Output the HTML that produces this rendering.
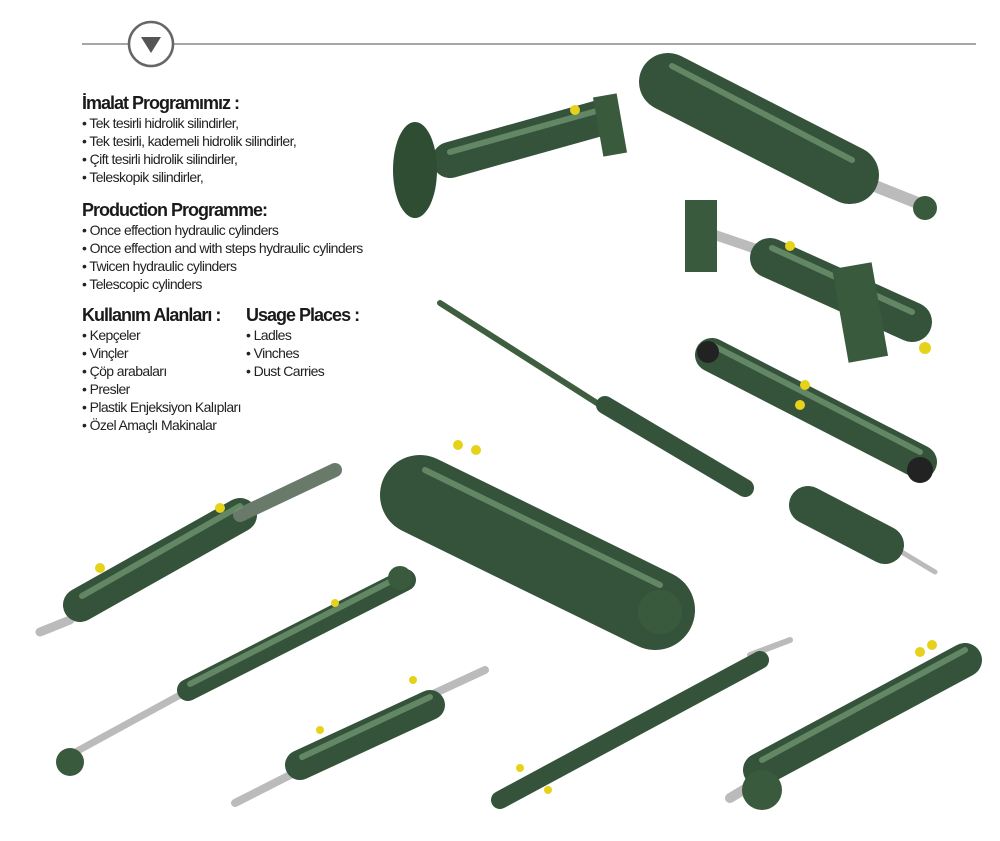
<!DOCTYPE html>
<html><head><meta charset="utf-8"><style>
body{margin:0;width:1000px;height:841px;background:#fff;position:relative;overflow:hidden;font-family:"Liberation Sans Narrow","Liberation Sans",sans-serif;color:#222}
.t{position:absolute;left:82px;line-height:18px;font-size:14px;letter-spacing:-0.6px}
.h{font-weight:bold;font-size:18px;letter-spacing:-1px;line-height:22px;color:#1a1a1a}
svg{position:absolute;left:0;top:0}
</style></head><body>
<svg width="1000" height="841">
<line x1="82" y1="44" x2="128" y2="44" stroke="#888" stroke-width="1.5"/>
<line x1="174" y1="44" x2="976" y2="44" stroke="#888" stroke-width="1.5"/>
<circle cx="151" cy="44" r="22" fill="#fff" stroke="#666" stroke-width="2.5"/>
<polygon points="141,37 161,37 151,53" fill="#555"/>
<g stroke-linecap="round" fill="none">
<g stroke="#bbb">
<line x1="860" y1="180" x2="930" y2="208" stroke-width="12"/>
<line x1="715" y1="235" x2="765" y2="252" stroke-width="10"/>
<line x1="890" y1="545" x2="935" y2="572" stroke-width="5"/>
<line x1="600" y1="405" x2="440" y2="303" stroke-width="6" stroke="#3f5e3f"/>
<line x1="70" y1="620" x2="40" y2="632" stroke-width="9"/>
<line x1="180" y1="695" x2="70" y2="755" stroke-width="7"/>
<line x1="420" y1="700" x2="485" y2="670" stroke-width="8"/>
<line x1="300" y1="770" x2="235" y2="803" stroke-width="8"/>
<line x1="750" y1="655" x2="790" y2="640" stroke-width="6"/>
<line x1="760" y1="780" x2="730" y2="798" stroke-width="10"/>
</g>
<g stroke="#34533a">
<line x1="450" y1="160" x2="600" y2="118" stroke-width="36"/>
<line x1="668" y1="82" x2="850" y2="175" stroke-width="58"/>
<line x1="770" y1="258" x2="912" y2="322" stroke-width="40"/>
<line x1="712" y1="355" x2="920" y2="462" stroke-width="34"/>
<line x1="808" y1="505" x2="885" y2="545" stroke-width="38"/>
<line x1="605" y1="405" x2="745" y2="488" stroke-width="18"/>
<line x1="420" y1="495" x2="655" y2="610" stroke-width="80"/>
<line x1="80" y1="605" x2="240" y2="515" stroke-width="34"/>
<line x1="240" y1="515" x2="335" y2="470" stroke-width="14" stroke="#6a7a6a"/>
<line x1="188" y1="690" x2="405" y2="580" stroke-width="22"/>
<line x1="300" y1="765" x2="430" y2="705" stroke-width="30"/>
<line x1="500" y1="800" x2="760" y2="660" stroke-width="18"/>
<line x1="760" y1="770" x2="965" y2="660" stroke-width="34"/>
</g>
<g stroke="#6f9470" stroke-width="6" opacity="0.8">
<line x1="450" y1="152" x2="600" y2="110"/>
<line x1="672" y1="66" x2="852" y2="160"/>
<line x1="772" y1="248" x2="912" y2="312"/>
<line x1="714" y1="346" x2="920" y2="452"/>
<line x1="425" y1="470" x2="660" y2="585"/>
<line x1="82" y1="596" x2="240" y2="506"/>
<line x1="190" y1="684" x2="405" y2="574"/>
<line x1="302" y1="757" x2="430" y2="697"/>
<line x1="762" y1="760" x2="965" y2="650"/>
</g>
</g>
<ellipse cx="415" cy="170" rx="22" ry="48" fill="#2f4d33"/>
<rect x="598" y="95" width="24" height="60" fill="#3a5a3d" transform="rotate(-10 610 125)"/>
<rect x="685" y="200" width="32" height="72" fill="#3a5a3d"/>
<rect x="840" y="265" width="40" height="95" fill="#3a5a3d" transform="rotate(-10 860 312)"/>
<circle cx="925" cy="208" r="12" fill="#3a5a3d"/>
<circle cx="660" cy="612" r="22" fill="#3a5a3d"/>
<circle cx="70" cy="762" r="14" fill="#3a5a3d"/>
<circle cx="400" cy="578" r="12" fill="#3a5a3d"/>
<circle cx="762" cy="790" r="20" fill="#3a5a3d"/>
<circle cx="920" cy="470" r="13" fill="#222"/>
<circle cx="708" cy="352" r="11" fill="#222"/>
<g fill="#e6d21a">
<circle cx="575" cy="110" r="5"/><circle cx="790" cy="246" r="5"/><circle cx="925" cy="348" r="6"/>
<circle cx="805" cy="385" r="5"/><circle cx="800" cy="405" r="5"/><circle cx="458" cy="445" r="5"/>
<circle cx="476" cy="450" r="5"/><circle cx="220" cy="508" r="5"/><circle cx="100" cy="568" r="5"/>
<circle cx="335" cy="603" r="4"/><circle cx="413" cy="680" r="4"/><circle cx="320" cy="730" r="4"/>
<circle cx="520" cy="768" r="4"/><circle cx="548" cy="790" r="4"/><circle cx="920" cy="652" r="5"/><circle cx="932" cy="645" r="5"/>
</g>
</svg>
<div class="t" style="top:92px"><div class="h">İmalat Programımız :</div>• Tek tesirli hidrolik silindirler,<br>• Tek tesirli, kademeli hidrolik silindirler,<br>• Çift tesirli hidrolik silindirler,<br>• Teleskopik silindirler,</div>
<div class="t" style="top:199px"><div class="h">Production Programme:</div>• Once effection hydraulic cylinders<br>• Once effection and with steps hydraulic cylinders<br>• Twicen hydraulic cylinders<br>• Telescopic cylinders</div>
<div class="t" style="top:304px"><div class="h">Kullanım Alanları :</div>• Kepçeler<br>• Vinçler<br>• Çöp arabaları<br>• Presler<br>• Plastik Enjeksiyon Kalıpları<br>• Özel Amaçlı Makinalar</div>
<div class="t" style="top:304px;left:246px"><div class="h">Usage Places :</div>• Ladles<br>• Vinches<br>• Dust Carries</div>
</body></html>
